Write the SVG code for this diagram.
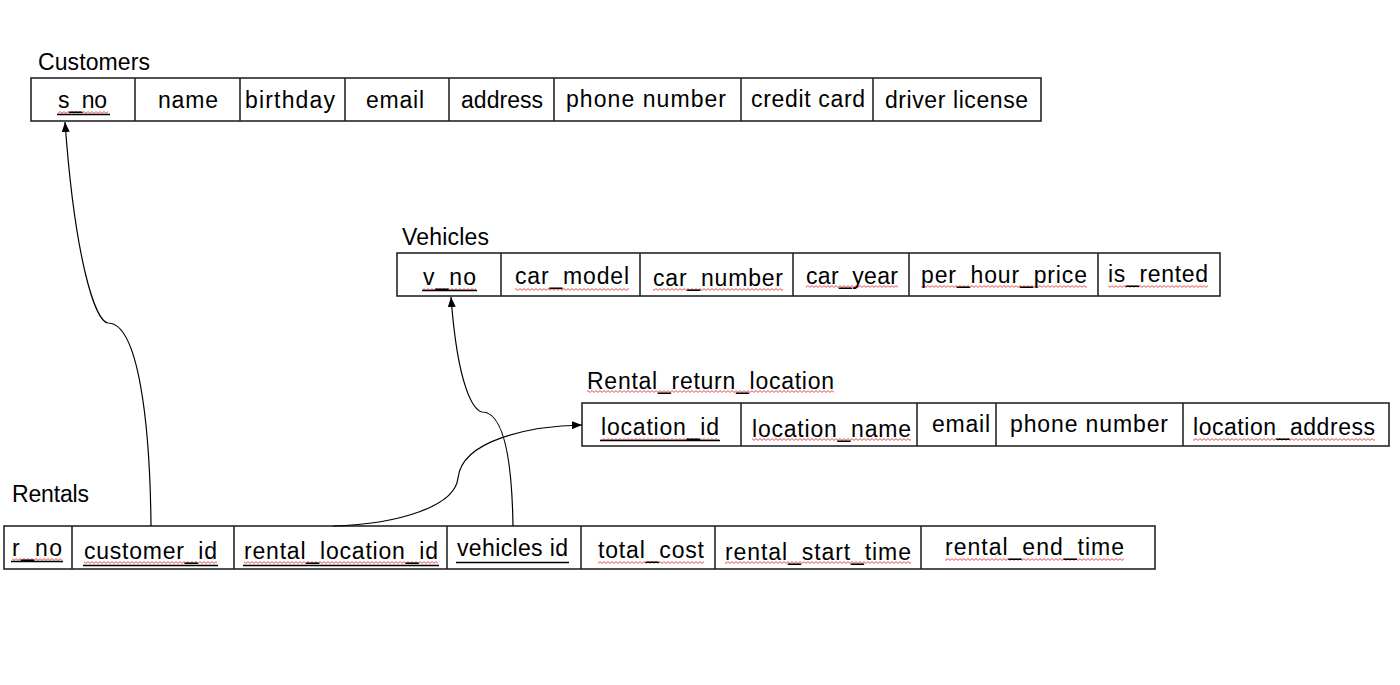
<svg xmlns="http://www.w3.org/2000/svg" width="1400" height="685" viewBox="0 0 1400 685">
<style>
  .bg { fill: #ffffff; }
  .tbl { fill: #ffffff; stroke: #262626; stroke-width: 1.6; }
  .div { stroke: #262626; stroke-width: 1.6; }
  .t { font-family: "Liberation Sans", Arial, sans-serif; font-size: 23px; fill: #000000; }
  .ul { stroke: #000000; stroke-width: 1.4; }
  .conn { fill: none; stroke: #000000; stroke-width: 1.2; marker-end: url(#arrow); }
</style>
<defs>
  <marker id="arrow" markerUnits="userSpaceOnUse" markerWidth="10" markerHeight="8" refX="10" refY="4" orient="auto">
    <path d="M0,0 L10,4 L0,8 z" fill="#000000"/>
  </marker>
  <pattern id="wave" width="4" height="3" patternUnits="userSpaceOnUse">
    <path d="M0,0.6 L2,2.4 L4,0.6" fill="none" stroke="#e53b3b" stroke-width="0.9"/>
  </pattern>
</defs>
<rect class="bg" x="0" y="0" width="1400" height="685"/>

<g id="customers">
  <text class="t" x="38" y="70" textLength="112">Customers</text>
  <rect class="tbl" x="31" y="78" width="1010" height="43"/>
  <line class="div" x1="135" y1="78" x2="135" y2="121"/>
  <line class="div" x1="240" y1="78" x2="240" y2="121"/>
  <line class="div" x1="345" y1="78" x2="345" y2="121"/>
  <line class="div" x1="449" y1="78" x2="449" y2="121"/>
  <line class="div" x1="554" y1="78" x2="554" y2="121"/>
  <line class="div" x1="741" y1="78" x2="741" y2="121"/>
  <line class="div" x1="873" y1="78" x2="873" y2="121"/>
  <rect x="58" y="111" width="50" height="3" fill="url(#wave)"/>
  <text class="t" x="58" y="108" textLength="49">s_no</text>
  <line class="ul" x1="57" y1="114.5" x2="110" y2="114.5"/>
  <text class="t" x="158" y="108" textLength="60">name</text>
  <text class="t" x="245" y="108" textLength="90">birthday</text>
  <text class="t" x="366" y="108" textLength="58">email</text>
  <text class="t" x="461" y="108" textLength="82">address</text>
  <text class="t" x="566" y="107" textLength="160">phone number</text>
  <text class="t" x="751" y="107" textLength="114">credit card</text>
  <text class="t" x="885" y="108" textLength="143">driver license</text>
</g>

<g id="vehicles">
  <text class="t" x="402" y="245" textLength="87">Vehicles</text>
  <rect class="tbl" x="397" y="253" width="823" height="43"/>
  <line class="div" x1="501" y1="253" x2="501" y2="296"/>
  <line class="div" x1="640" y1="253" x2="640" y2="296"/>
  <line class="div" x1="793" y1="253" x2="793" y2="296"/>
  <line class="div" x1="909" y1="253" x2="909" y2="296"/>
  <line class="div" x1="1098" y1="253" x2="1098" y2="296"/>
  <rect x="423" y="288" width="53" height="3" fill="url(#wave)"/>
  <rect x="515" y="288" width="114" height="3" fill="url(#wave)"/>
  <rect x="653" y="288" width="130" height="3" fill="url(#wave)"/>
  <rect x="806" y="285" width="92" height="3" fill="url(#wave)"/>
  <rect x="921" y="285" width="166" height="3" fill="url(#wave)"/>
  <rect x="1108" y="285" width="100" height="3" fill="url(#wave)"/>
  <text class="t" x="423" y="285" textLength="53">v_no</text>
  <line class="ul" x1="422" y1="290.5" x2="477" y2="290.5"/>
  <text class="t" x="515" y="284" textLength="114">car_model</text>
  <text class="t" x="653" y="286" textLength="130">car_number</text>
  <text class="t" x="806" y="284" textLength="92">car_year</text>
  <text class="t" x="921" y="283" textLength="166">per_hour_price</text>
  <text class="t" x="1108" y="282" textLength="100">is_rented</text>
</g>

<g id="rental_return_location">
  <rect x="587" y="390" width="247" height="3" fill="url(#wave)"/>
  <text class="t" x="587" y="389" textLength="247">Rental_return_location</text>
  <rect class="tbl" x="582" y="403" width="807" height="43"/>
  <line class="div" x1="741" y1="403" x2="741" y2="446"/>
  <line class="div" x1="917" y1="403" x2="917" y2="446"/>
  <line class="div" x1="996" y1="403" x2="996" y2="446"/>
  <line class="div" x1="1183" y1="403" x2="1183" y2="446"/>
  <rect x="601" y="438" width="118" height="3" fill="url(#wave)"/>
  <rect x="752" y="438" width="159" height="3" fill="url(#wave)"/>
  <rect x="1193" y="438" width="182" height="3" fill="url(#wave)"/>
  <text class="t" x="601" y="435" textLength="118">location_id</text>
  <line class="ul" x1="600" y1="440.5" x2="720" y2="440.5"/>
  <text class="t" x="752" y="437" textLength="159">location_name</text>
  <text class="t" x="932" y="432" textLength="58">email</text>
  <text class="t" x="1010" y="432" textLength="158">phone number</text>
  <text class="t" x="1193" y="435" textLength="182">location_address</text>
</g>

<g id="rentals">
  <text class="t" x="12" y="502" textLength="77">Rentals</text>
  <rect class="tbl" x="4" y="526" width="1151" height="43"/>
  <line class="div" x1="72" y1="526" x2="72" y2="569"/>
  <line class="div" x1="234" y1="526" x2="234" y2="569"/>
  <line class="div" x1="447" y1="526" x2="447" y2="569"/>
  <line class="div" x1="581" y1="526" x2="581" y2="569"/>
  <line class="div" x1="715" y1="526" x2="715" y2="569"/>
  <line class="div" x1="921" y1="526" x2="921" y2="569"/>
  <rect x="12" y="558" width="50" height="3" fill="url(#wave)"/>
  <rect x="84" y="561" width="133" height="3" fill="url(#wave)"/>
  <rect x="244" y="561" width="194" height="3" fill="url(#wave)"/>
  <rect x="598" y="561" width="106" height="3" fill="url(#wave)"/>
  <rect x="725" y="561" width="186" height="3" fill="url(#wave)"/>
  <rect x="945" y="558" width="179" height="3" fill="url(#wave)"/>
  <text class="t" x="12" y="556" textLength="50">r_no</text>
  <line class="ul" x1="11" y1="561.5" x2="63" y2="561.5"/>
  <text class="t" x="84" y="559" textLength="133">customer_id</text>
  <line class="ul" x1="83" y1="565.5" x2="218" y2="565.5"/>
  <text class="t" x="244" y="559" textLength="194">rental_location_id</text>
  <line class="ul" x1="243" y1="565.5" x2="439" y2="565.5"/>
  <text class="t" x="457" y="556" textLength="111">vehicles id</text>
  <line class="ul" x1="456" y1="562.5" x2="569" y2="562.5"/>
  <text class="t" x="598" y="558" textLength="106">total_cost</text>
  <text class="t" x="725" y="560" textLength="186">rental_start_time</text>
  <text class="t" x="945" y="555" textLength="179">rental_end_time</text>
</g>

<g id="connectors">
  <path class="conn" d="M151,526 C150,420 138,323 108,323 C95,321 75,260 65,122"/>
  <path class="conn" d="M513,526 C512,460 504,412 482,412 C474,410 458,390 451,297"/>
  <path class="conn" d="M333,526 C400,524 455,506 458,478 C462,440 530,426 582,425"/>
</g>
</svg>
